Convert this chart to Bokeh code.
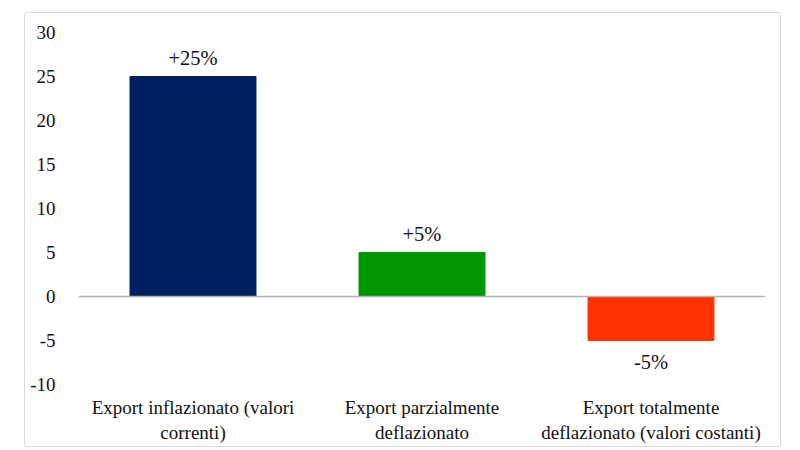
from bokeh.plotting import figure
from bokeh.models import ColumnDataSource, FactorRange, Range1d, FixedTicker, Span
from bokeh.embed import file_html
from bokeh.resources import INLINE
from bokeh.core.properties import value

categories = ["Export inflazionato (valori\ncorrenti)",
              "Export parzialmente\ndeflazionato",
              "Export totalmente\ndeflazionato (valori costanti)"]
values = [25, 5, -5]
labels = ["+25%", "+5%", "-5%"]
colors = ["#002060", "#009600", "#ff3300"]
y_ticks = [-10, -5, 0, 5, 10, 15, 20, 25, 30]

FONT = "'Liberation Serif', serif"

src = ColumnDataSource(dict(
    cat=categories, val=values, lab=labels, col=colors,
    off=[-19 if v >= 0 else 21 for v in values],
))

p = figure(x_range=FactorRange(*categories), y_range=Range1d(-10, 30),
           width=757, height=435, output_backend="svg", toolbar_location=None,
           min_border_left=53, min_border_right=17, min_border_top=19,
           min_border_bottom=64, margin=(12, 0, 0, 24))
p.styles = {"border": "1px solid #d9d9d9", "border-radius": "3px"}
p.outline_line_color = None
p.background_fill_color = "white"
p.border_fill_color = "white"
p.xgrid.grid_line_color = None
p.ygrid.grid_line_color = None

p.vbar(x="cat", top="val", bottom=0, width=0.55, color="col", source=src)
p.add_layout(Span(location=0, dimension="width", line_color="#b4b4b4", line_width=1.3))

p.text(x="cat", y="val", text="lab", y_offset="off", source=src,
       text_align="center", text_baseline="middle",
       text_font=value(FONT), text_font_size="20.5px", text_color="#111111")

p.yaxis.ticker = FixedTicker(ticks=y_ticks)
p.yaxis.major_label_overrides = {t: str(t) for t in y_ticks}
p.yaxis.axis_line_color = None
p.yaxis.major_tick_line_color = None
p.yaxis.minor_tick_line_color = None
p.yaxis.major_label_standoff = 17
p.yaxis.major_label_text_font = FONT
p.yaxis.major_label_text_font_size = "19px"
p.yaxis.major_label_text_color = "#111111"

p.xaxis.axis_line_color = None
p.xaxis.major_tick_line_color = None
p.xaxis.minor_tick_line_color = None
p.xaxis.major_label_standoff = 6
p.xaxis.major_label_text_font = FONT
p.xaxis.major_label_text_font_size = "19px"
p.xaxis.major_label_text_color = "#111111"
p.xaxis.major_label_orientation = "horizontal"

open("out.html", "w").write(file_html(p, INLINE))
